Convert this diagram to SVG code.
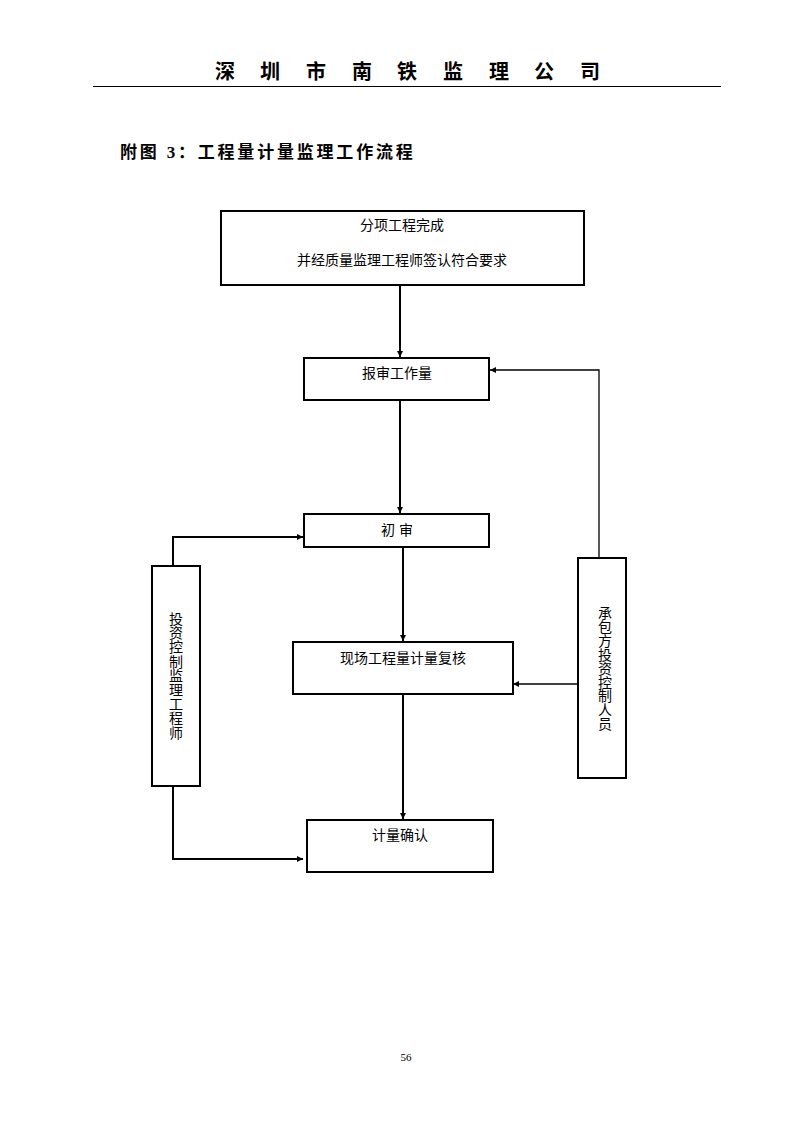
<svg xmlns="http://www.w3.org/2000/svg" width="794" height="1123" viewBox="0 0 794 1123">
<defs>
<style>
.t{font-family:"Liberation Sans","Noto Sans CJK SC",sans-serif;font-size:14px;fill:#000;text-anchor:middle}
.box{fill:#fff;stroke:#000;stroke-width:2}
.ln{fill:none;stroke:#000;stroke-width:2}
.ln1{fill:none;stroke:#000;stroke-width:1.3}
.hd{font-family:"Liberation Serif","Noto Sans CJK SC",serif;font-weight:bold;font-size:20px;fill:#000;text-anchor:middle}
</style>
<marker id="ah" viewBox="0 0 10 10" refX="10" refY="5" markerWidth="6" markerHeight="6" markerUnits="userSpaceOnUse" orient="auto">
<path d="M0,0 L10,5 L0,10 z" fill="#000"/>
</marker>
</defs>
<rect width="794" height="1123" fill="#fff"/>
<g id="header">
<text class="hd" x="225" y="79">深</text>
<text class="hd" x="270" y="79">圳</text>
<text class="hd" x="316" y="79">市</text>
<text class="hd" x="362" y="79">南</text>
<text class="hd" x="407" y="79">铁</text>
<text class="hd" x="453" y="79">监</text>
<text class="hd" x="499" y="79">理</text>
<text class="hd" x="544" y="79">公</text>
<text class="hd" x="590" y="79">司</text>
<line x1="93" y1="86.5" x2="721" y2="86.5" stroke="#000" stroke-width="1.2"/>
</g>
<text id="title" x="120" y="158" font-family="'Liberation Serif','Noto Sans CJK SC',serif" font-weight="bold" font-size="17" letter-spacing="2.8" fill="#000">附图 3：工程量计量监理工作流程</text>
<g id="connectors">
<line class="ln" x1="400" y1="286" x2="400" y2="357" marker-end="url(#ah)"/>
<polyline class="ln1" points="599,557 599,370 490,370" marker-end="url(#ah)"/>
<line class="ln" x1="400" y1="401" x2="400" y2="513" marker-end="url(#ah)"/>
<line class="ln" x1="403" y1="548" x2="403" y2="641" marker-end="url(#ah)"/>
<line class="ln1" x1="578" y1="684" x2="513" y2="684" marker-end="url(#ah)"/>
<line class="ln" x1="403" y1="695" x2="403" y2="819" marker-end="url(#ah)"/>
<polyline class="ln" points="173,566 173,537 303,537" marker-end="url(#ah)"/>
<polyline class="ln" points="173,786 173,859 303,859" marker-end="url(#ah)"/>
</g>
<g id="n1"><rect class="box" x="221" y="211" width="363" height="74" stroke-width="1.6"/>
<text class="t" x="402" y="230">分项工程完成</text>
<text class="t" x="402" y="265">并经质量监理工程师签认符合要求</text></g>
<g id="n2"><rect class="box" x="304" y="358" width="185" height="42"/>
<text class="t" x="397" y="378">报审工作量</text></g>
<g id="n3"><rect class="box" x="304" y="514" width="185" height="33"/>
<text class="t" x="397" y="535">初 审</text></g>
<g id="n4"><rect class="box" x="293" y="642" width="220" height="52" stroke-width="1.5"/>
<text class="t" x="403" y="663">现场工程量计量复核</text></g>
<g id="n5"><rect class="box" x="307" y="820" width="186" height="52"/>
<text class="t" x="400" y="840">计量确认</text></g>
<g id="n6"><rect class="box" x="152" y="566" width="48" height="220" stroke-width="1.6"/>
<text class="t" x="176" y="624"><tspan x="176">投</tspan><tspan x="176" dy="14.2">资</tspan><tspan x="176" dy="14.2">控</tspan><tspan x="176" dy="14.2">制</tspan><tspan x="176" dy="14.2">监</tspan><tspan x="176" dy="14.2">理</tspan><tspan x="176" dy="14.2">工</tspan><tspan x="176" dy="14.2">程</tspan><tspan x="176" dy="14.2">师</tspan></text></g>
<g id="n7"><rect class="box" x="578" y="558" width="48" height="220" stroke-width="1.6"/>
<text class="t" x="605" y="618"><tspan x="605">承</tspan><tspan x="605" dy="13.9">包</tspan><tspan x="605" dy="13.9">方</tspan><tspan x="605" dy="13.9">投</tspan><tspan x="605" dy="13.9">资</tspan><tspan x="605" dy="13.9">控</tspan><tspan x="605" dy="13.9">制</tspan><tspan x="605" dy="13.9">人</tspan><tspan x="605" dy="13.9">员</tspan></text></g>
<text x="406" y="1061" font-family="'Liberation Serif',serif" font-size="11" text-anchor="middle" fill="#000">56</text>
</svg>
